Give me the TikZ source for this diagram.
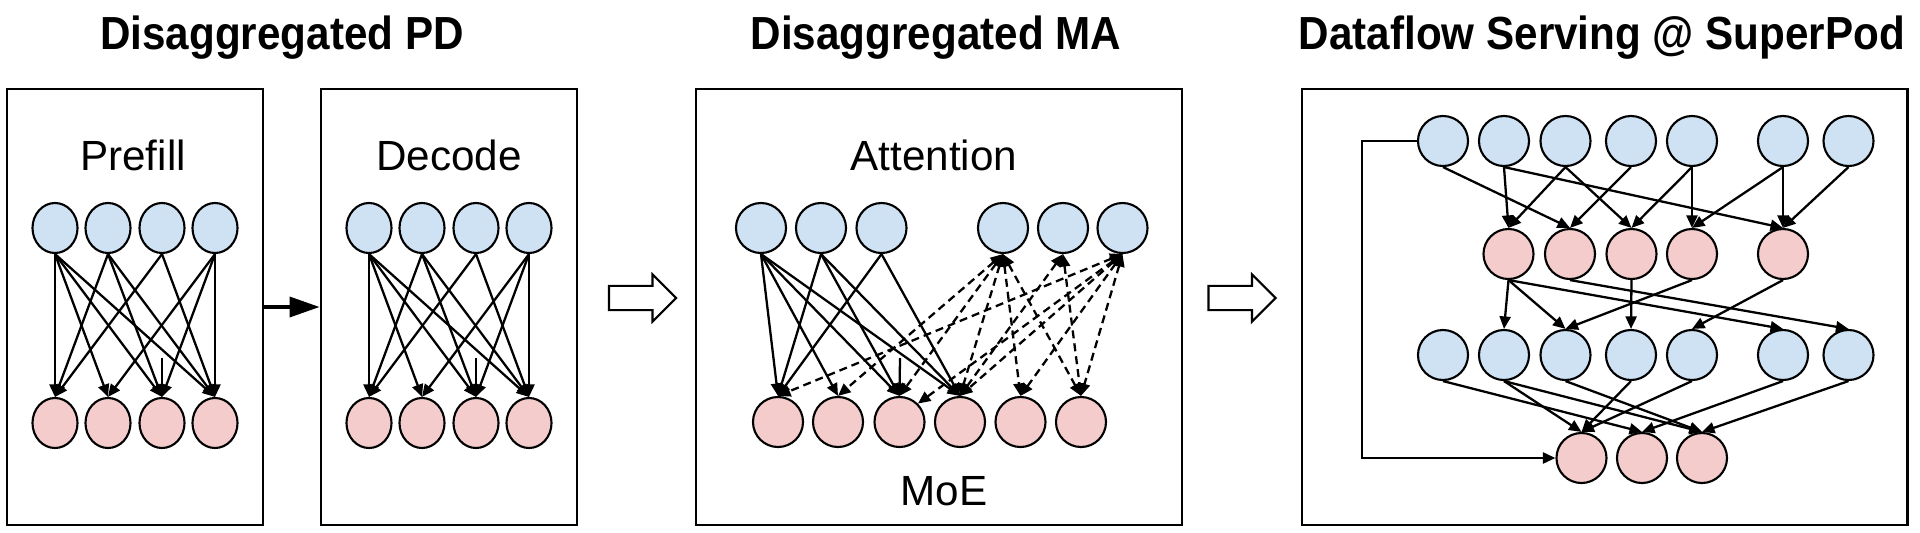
\documentclass[tikz,border=0pt]{standalone}
\usepackage{xcolor}
\usepackage{tikz}
\usepackage{graphicx}
\usepackage{fontspec}
\setmainfont{Liberation Sans}
\usetikzlibrary{
  arrows.meta,
  positioning,
  shapes.geometric,
  shapes.arrows
}
\definecolor{attblue}{HTML}{CFE2F3}
\definecolor{moepink}{HTML}{F4CCCC}

\begin{document}
\begin{tikzpicture}[
    x=0.01cm,
    y=-0.01cm,
    >={Triangle[length=0.125cm,width=0.11cm]},
    unit/.style={ellipse,draw,line width=0.6pt,inner sep=0pt},
    att/.style={unit,fill=attblue},
    moe/.style={unit,fill=moepink},
    pdsize/.style={minimum width=0.45cm,minimum height=0.5cm},
    bigsize/.style={minimum width=0.5cm,minimum height=0.5cm},
    panel/.style={draw,line width=0.75pt,inner sep=0pt},
    flow/.style={->,line width=0.65pt},
    dflow/.style={<->,line width=0.65pt,dash pattern=on 0.08cm off 0.05cm},
    heading/.style={font=\fontsize{12}{14}\selectfont\bfseries,anchor=base},
    lbl/.style={font=\fontsize{12}{14}\selectfont,anchor=base},
    hollow/.style={single arrow,draw,line width=0.6pt,inner xsep=0pt,
      inner ysep=0.11cm,minimum height=0.67cm,single arrow head extend=0.115cm}
    ]

    \useasboundingbox (0,0) rectangle (1920,533);

    % titles
    \node[heading] (tpd) at (282,49.5) {\scalebox{1}[1.1]{Disaggregated PD}};
    \node[heading] (tma) at (936,49.5) {\scalebox{1}[1.1]{Disaggregated MA}};
    \node[heading] (tpod) at (1602,49.5) {\scalebox{1}[1.1]{Dataflow Serving @ SuperPod}};

    % frames
    \node[panel,minimum width=2.56cm,minimum height=4.36cm] (pbox) at (135,307) {};
    \node[panel,minimum width=2.56cm,minimum height=4.36cm] (dbox) at (449,307) {};
    \node[panel,minimum width=4.86cm,minimum height=4.36cm] (mbox) at (939,307) {};
    \node[panel,minimum width=6.05cm,minimum height=4.36cm] (sbox) at (1604.5,307) {};

    \draw[line width=1pt,-{Triangle[length=0.3cm,width=0.2cm]}]
    (pbox.east) -- (dbox.west);

    \node[hollow] (ar1) at (636.5,298) {};
    \node[hollow] (ar2) at (1236,298) {};

    \node[lbl] (prefill) at (133,170) {Prefill};
    \node[lbl] (decode) at (449,170) {Decode};
    \node[lbl] (attn) at (934,170) {Attention};
    \node[lbl] (moelbl) at (944,505) {MoE};

    % prefill and decode
    \foreach \i/\x/\y in {1/55/369,2/108/422,3/162/476,4/215/529}{
      \node[att,pdsize] (pt\i) at (\x,228) {};
      \node[moe,pdsize] (pb\i) at (\x,423) {};
      \node[att,pdsize] (dt\i) at (\y,228) {};
      \node[moe,pdsize] (db\i) at (\y,423) {};
    }
    \foreach \s/\t in {1/1,1/2,1/3,1/4,2/1,2/3,2/4,3/1,3/4,4/2,4/3,4/4}{
      \draw[flow] (pt\s.south) -- (pb\t.north);
      \draw[flow] (dt\s.south) -- (db\t.north);
    }
    \coordinate (pstub) at (162,358);
    \coordinate (dstub) at (476,358);
    \draw[flow] (pstub) -- (pb3.north);
    \draw[flow] (dstub) -- (db3.north);

    % attention / moe
    \foreach \i/\x/\y in {1/761/778,2/821/838,3/881.5/899.5,4/1003/960,5/1063/1020.5,6/1122.5/1081}{
      \node[att,bigsize] (a\i) at (\x,228) {};
      \node[moe,bigsize] (m\i) at (\y,422) {};
    }
    \foreach \s/\t in {1/1,1/2,1/3,1/4,2/1,2/3,2/4,3/1,3/4}{
      \draw[flow] (a\s.south) -- (m\t.north);
    }
    \coordinate (mstub) at (900,358);
    \draw[flow] (mstub) -- (m3.north);
    \foreach \s/\t in {4/2,4/3,4/4,4/5,4/6,5/4,5/6,6/1,6/4,6/5,6/6}{
      \draw[dflow] (a\s.south) -- (m\t.north);
    }
    \draw[dflow] (a6.south) -- (m3.north east);

    % superpod dataflow
    \foreach \i/\x in {1/1443,2/1504,3/1565.5,4/1631,5/1692,6/1783,7/1848.5}{
      \node[att,bigsize] (s\i) at (\x,141) {};
      \node[att,bigsize] (u\i) at (\x,355) {};
    }
    \foreach \i/\x in {1/1508.5,2/1570,3/1631.5,4/1692,5/1783}{
      \node[moe,bigsize] (q\i) at (\x,254) {};
    }
    \foreach \i/\x in {1/1581.5,2/1642,3/1702}{
      \node[moe,bigsize] (r\i) at (\x,458) {};
    }
    \foreach \s/\t in {1/2,2/1,2/5,3/1,3/3,4/2,5/3,5/4,6/4,6/5,7/5}{
      \draw[flow] (s\s.south) -- (q\t.north);
    }
    \foreach \s/\t in {1/2,1/3,1/6,2/7,3/4,4/3,5/5}{
      \draw[flow] (q\s.south) -- (u\t.north);
    }
    \foreach \s/\t in {1/2,2/1,2/3,3/3,4/1,5/1,6/2,7/3}{
      \draw[flow] (u\s.south) -- (r\t.north);
    }
    \draw[flow] (s1.west) -- ++(-55,0) |- (r1.west);

\end{tikzpicture}
\end{document}
